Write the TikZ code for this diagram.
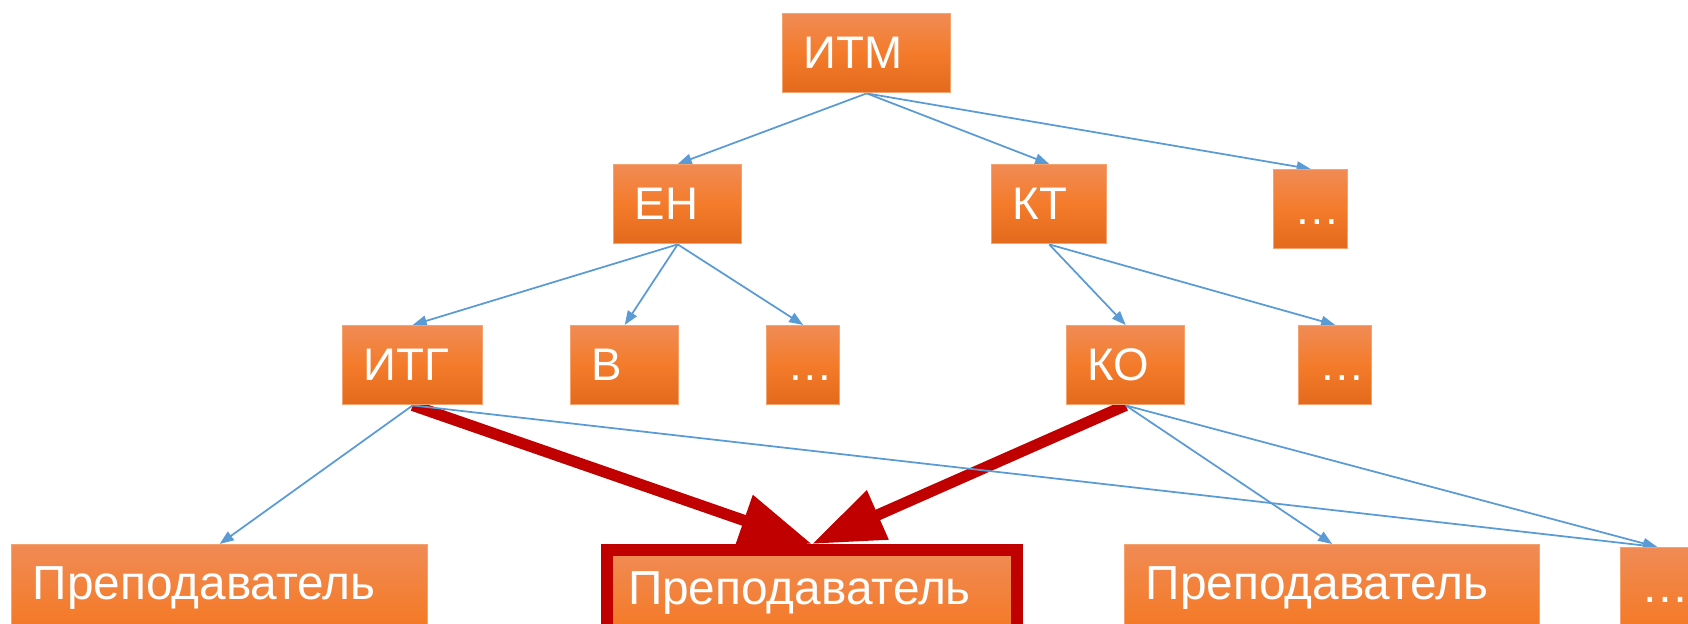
\documentclass[tikz,border=0pt]{standalone}
\usepackage{fontspec}
\setmainfont{Liberation Sans}
\usepackage{xcolor}
\usepackage{tikz}
\usetikzlibrary{arrows.meta,backgrounds}
\definecolor{cTop}{HTML}{F08B55}
\definecolor{cMid}{HTML}{F47B2A}
\definecolor{cBot}{HTML}{E36A1C}
\definecolor{cEdge}{HTML}{F4A36E}
\definecolor{cBlue}{HTML}{5B9BD5}
\definecolor{cRed}{HTML}{C00000}
\tikzset{
  unit/.style={draw=cEdge,line width=0.8pt,top color=cTop,bottom color=cBot,middle color=cMid,anchor=north west,align=left,text width=#1,inner xsep=0.42cm,inner ysep=0pt,text height=1.1cm,text depth=0.48cm,text=white,font=\fontsize{26}{30}\selectfont},
  tall/.style={text depth=1.8cm,font=\fontsize{27.2}{31}\selectfont},
  arr/.style={-{Triangle[length=8pt,width=6pt]},line width=1pt,color=cBlue},
  harr/.style={-{Triangle[length=41pt,width=29pt]},line width=6.4pt,color=cRed},
}

\begin{document}
\begin{tikzpicture}[x=0.02cm,y=-0.02cm]
  \useasboundingbox (0,0) rectangle (1688,624);
  \clip (0,0) rectangle (1688,624);
  \node[unit=2.52cm] (itm) at (782,13) {ИТМ};
  \node[unit=1.72cm] (en) at (613,164) {ЕН};
  \node[unit=1.46cm] (kt) at (991,164) {КТ};
  \node[unit=0.64cm] (etc1) at (1273,169) {\ldots};
  \node[unit=1.96cm] (itg) at (342,325) {ИТГ};
  \node[unit=1.32cm] (v) at (570,325) {В};
  \node[unit=0.62cm] (etc2) at (766,325) {\ldots};
  \node[unit=1.52cm] (ko) at (1066,325) {КО};
  \node[unit=0.62cm] (etc3) at (1298,325) {\ldots};
  \node[unit=7.48cm,tall] (prep1) at (11,544) {Преподаватель};
  \node[unit=7.36cm,tall,draw=cRed,line width=0.24cm] (prep2) at (601,544) {Преподаватель};
  \node[unit=7.46cm,tall] (prep3) at (1124,544) {Преподаватель};
  \node[unit=0.62cm,tall] (etc4) at (1620,547) {\ldots};
  \begin{scope}[on background layer]
    \draw[harr] (itg.south) -- (prep2.north);
    \draw[harr] (ko.south) -- (prep2.north);
    \draw[arr] (itm.south) -- (en.north);
    \draw[arr] (itm.south) -- (kt.north);
    \draw[arr] (itm.south) -- (etc1.north);
    \draw[arr] (en.south) -- (itg.north);
    \draw[arr] (en.south) -- (v.north);
    \draw[arr] (en.south) -- (etc2.north);
    \draw[arr] (kt.south) -- (ko.north);
    \draw[arr] (kt.south) -- (etc3.north);
    \draw[arr] (itg.south) -- (prep1.north);
    \draw[arr] (itg.south) -- (etc4.north);
    \draw[arr] (ko.south) -- (prep3.north);
    \draw[arr] (ko.south) -- (etc4.north);
  \end{scope}
\end{tikzpicture}
\end{document}
